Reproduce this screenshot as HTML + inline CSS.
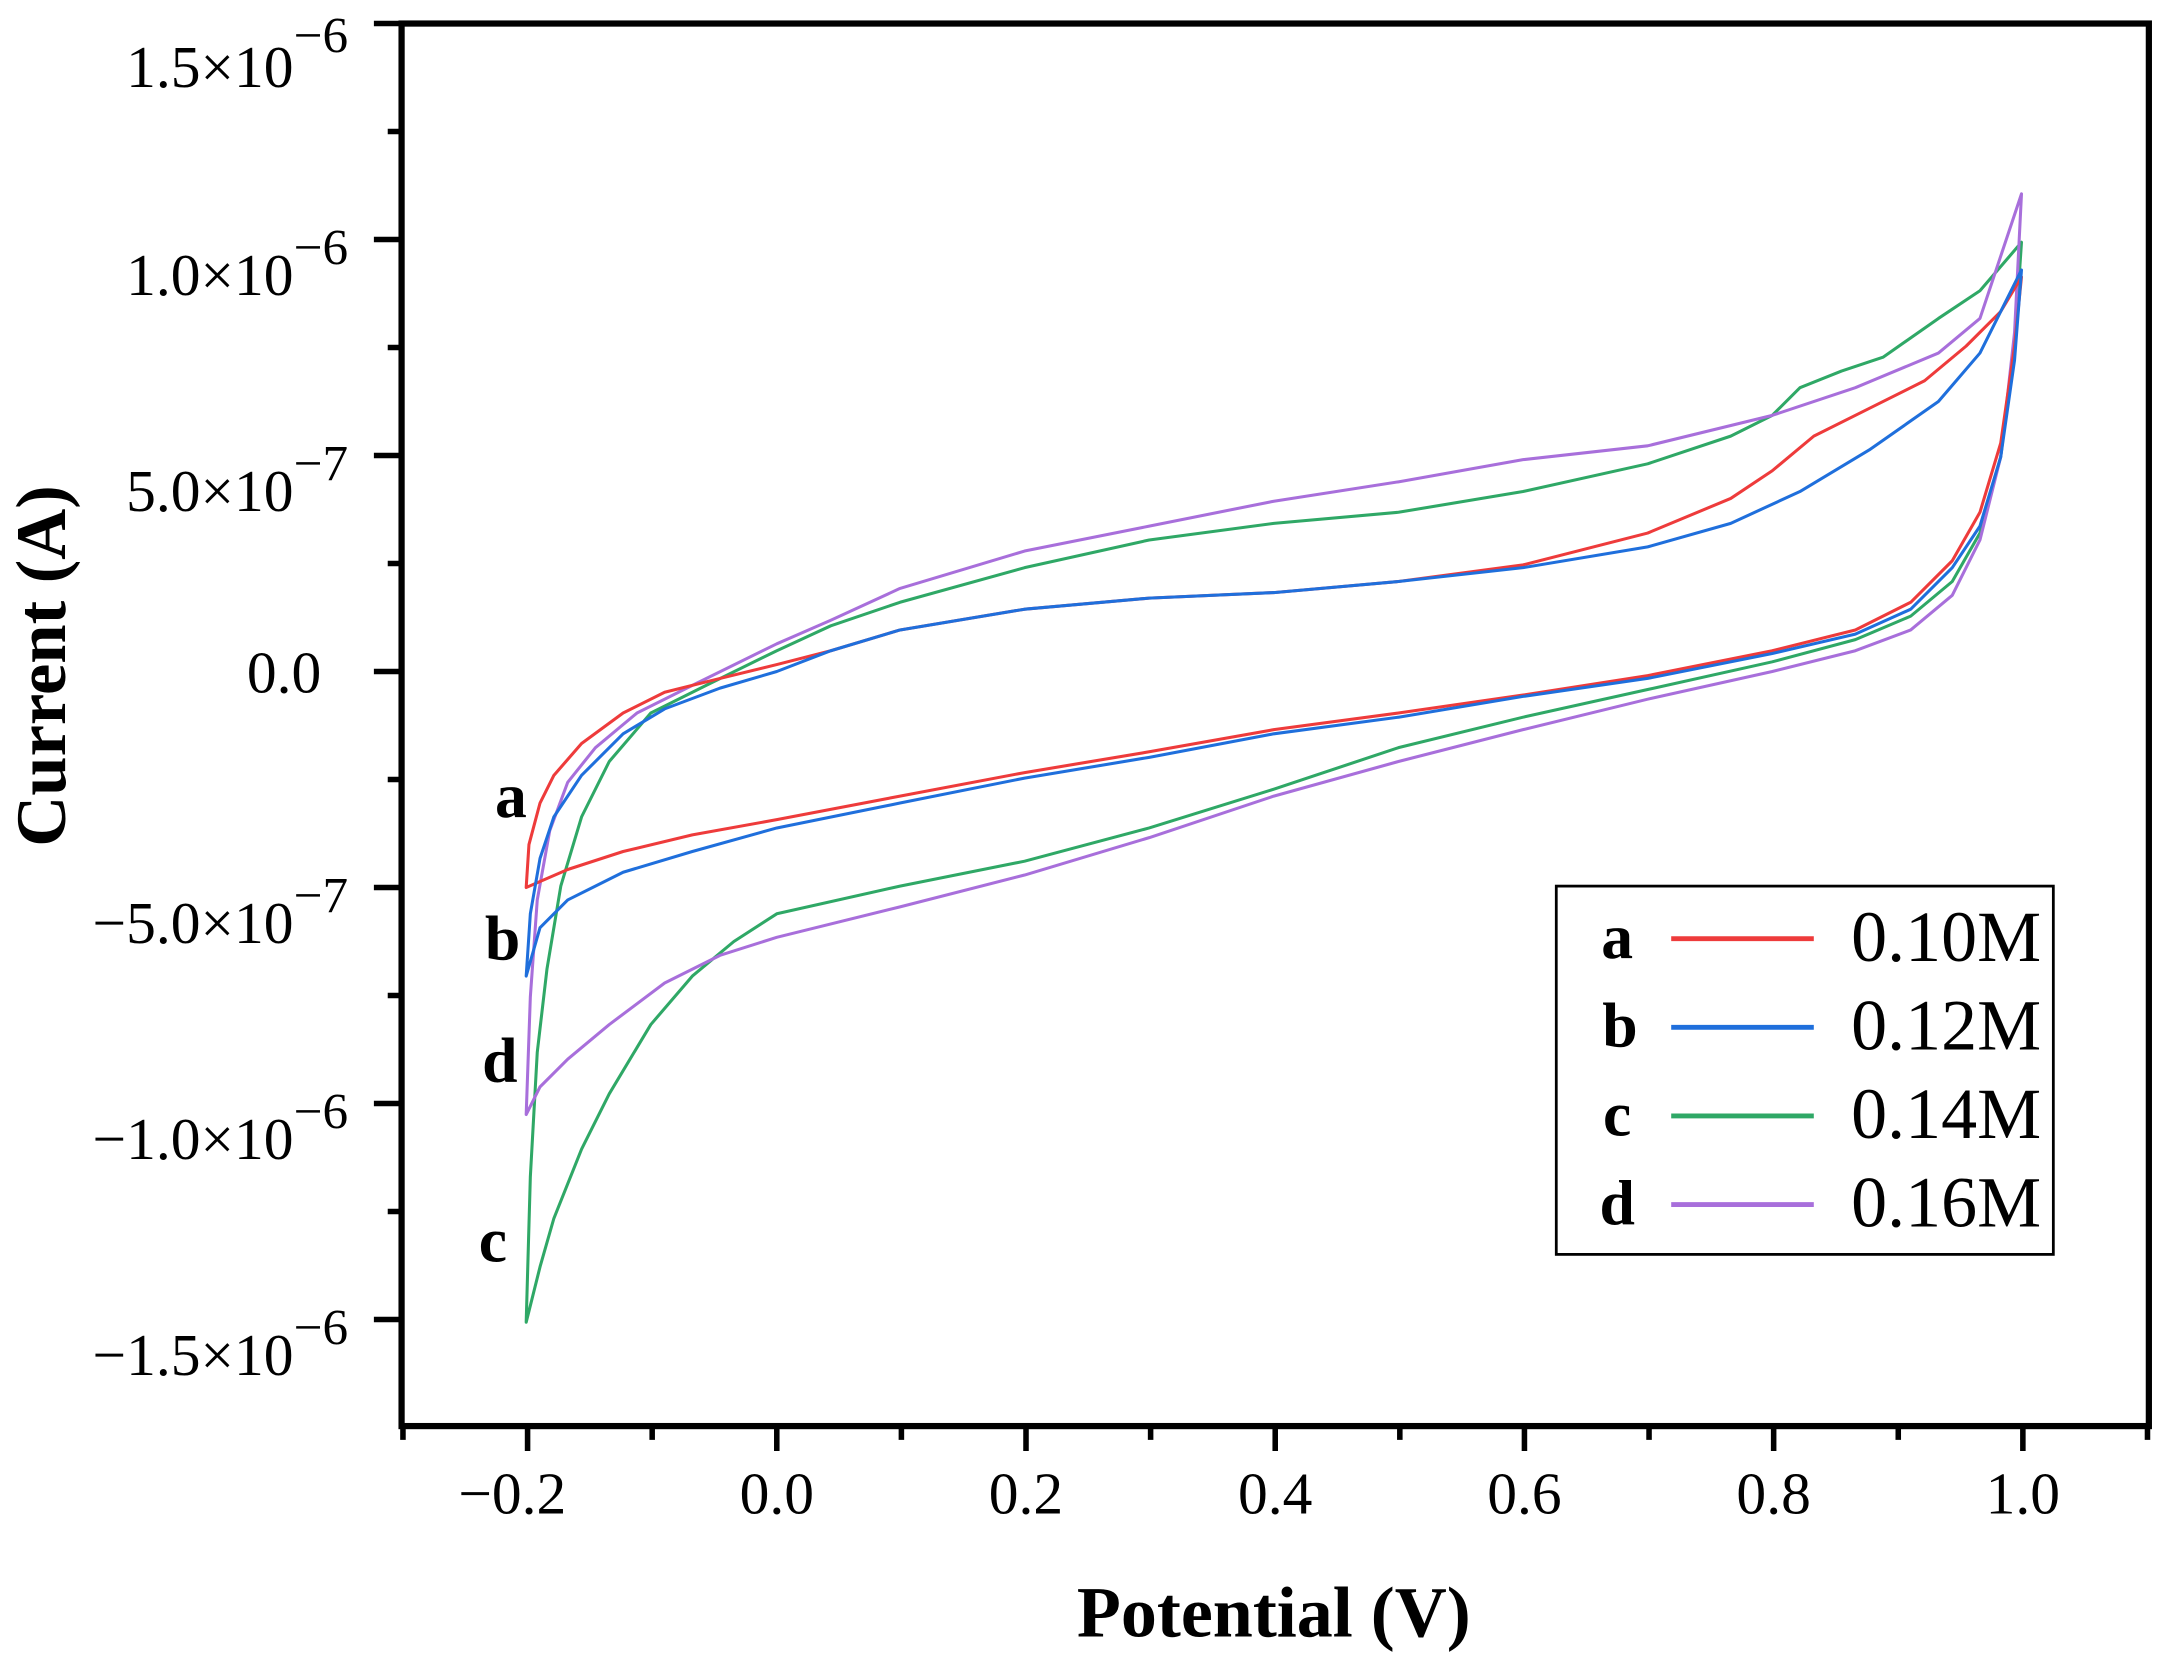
<!DOCTYPE html>
<html><head><meta charset="utf-8"><style>html,body{margin:0;padding:0;background:#fff}svg{display:block}</style></head><body>
<svg width="2160" height="1653" viewBox="0 0 1560 1193.9" xmlns="http://www.w3.org/2000/svg" font-family="Liberation Serif, serif">
<rect width="1560" height="1194" fill="#fff"/>
<g fill="none" stroke-width="2.2" stroke-linejoin="round">
<path stroke="#2fa866" d="M380,955 L383,850 L388,760 L395,700 L405,640 L420,590 L440,550 L470,515 L510,495 L561,470 L600,452 L650,435 L740,410 L830,390 L920,378 L1010,370 L1100,355 L1190,335 L1250,315 L1280,300 L1300,280 L1330,268 L1360,258 L1400,230 L1430,210 L1460,175 L1455,250 L1445,330 L1430,385 L1410,420 L1380,445 L1340,462 L1280,478 L1190,498 L1100,518 L1010,540 L920,570 L830,598 L740,622 L650,640 L561,660 L530,680 L500,705 L470,740 L440,790 L420,830 L400,880 L390,915 Z"/>
<path stroke="#a86fdb" d="M380,805 L383,720 L388,650 L397,600 L410,565 L430,540 L460,515 L500,495 L561,465 L600,448 L650,425 L740,398 L830,380 L920,362 L1010,348 L1100,332 L1190,322 L1280,300 L1340,280 L1400,255 L1430,230 L1460,140 L1455,240 L1445,330 L1430,390 L1410,430 L1380,455 L1340,470 L1280,485 L1190,505 L1100,527 L1010,550 L920,575 L830,605 L740,632 L650,655 L561,677 L520,690 L480,710 L440,740 L410,765 L390,785 Z"/>
<path stroke="#ee3b3b" d="M380,641 L382,610 L390,580 L400,560 L420,537 L450,515 L480,500 L520,490 L561,480 L600,470 L650,455 L740,440 L830,432 L920,428 L1010,420 L1100,408 L1190,385 L1250,360 L1280,340 L1310,315 L1350,295 L1390,275 L1420,250 L1445,225 L1460,200 L1455,250 L1445,320 L1430,370 L1410,405 L1380,435 L1340,455 L1280,470 L1190,488 L1100,502 L1010,515 L920,527 L830,543 L740,558 L650,575 L561,592 L500,603 L450,615 L410,628 Z"/>
<path stroke="#1f6fdc" d="M380,705 L383,660 L390,620 L400,590 L420,560 L450,530 L480,512 L520,497 L561,485 L600,470 L650,455 L740,440 L830,432 L920,428 L1010,420 L1100,410 L1190,395 L1250,378 L1300,355 L1350,325 L1400,290 L1430,255 L1460,195 L1455,260 L1445,330 L1430,380 L1410,410 L1380,440 L1340,458 L1280,472 L1190,490 L1100,503 L1010,518 L920,530 L830,547 L740,562 L650,580 L561,598 L500,615 L450,630 L410,650 L390,670 Z"/>
</g>
<rect x="290" y="17" width="1262" height="1013" fill="none" stroke="#000" stroke-width="4.5"/>
<g stroke="#000" stroke-width="4">
<path d="M290,17h-20M290,173h-20M290,329h-20M290,485h-20M290,641h-20M290,797h-20M290,953h-20"/>
<path d="M290,95h-10M290,251h-10M290,407h-10M290,563h-10M290,719h-10M290,875h-10"/>
<path d="M381,1030v18M561,1030v18M741,1030v18M921,1030v18M1101,1030v18M1281,1030v18M1461,1030v18"/>
<path d="M291,1030v10M471,1030v10M651,1030v10M831,1030v10M1011,1030v10M1191,1030v10M1371,1030v10M1551,1030v10"/>
</g>
<g font-size="43" text-anchor="end">
<text x="212" y="63">1.5×10</text><text x="212" y="213">1.0×10</text><text x="212" y="369">5.0×10</text><text x="232" y="500">0.0</text><text x="212" y="681">−5.0×10</text><text x="212" y="837">−1.0×10</text><text x="212" y="993">−1.5×10</text>
</g>
<g font-size="37">
<text x="212" y="38">−6</text><text x="212" y="191">−6</text><text x="212" y="347">−7</text><text x="212" y="659">−7</text><text x="212" y="815">−6</text><text x="212" y="971">−6</text>
</g>
<g font-size="43" text-anchor="middle">
<text x="370" y="1093">−0.2</text><text x="561" y="1093">0.0</text><text x="741" y="1093">0.2</text><text x="921" y="1093">0.4</text><text x="1101" y="1093">0.6</text><text x="1281" y="1093">0.8</text><text x="1461" y="1093">1.0</text>
</g>
<text x="920" y="1182" font-size="52" font-weight="bold" text-anchor="middle">Potential (V)</text>
<text transform="translate(47,481) rotate(-90)" font-size="51" font-weight="bold" text-anchor="middle">Current (A)</text>
<g font-size="46" font-weight="bold" text-anchor="middle">
<text x="369" y="590">a</text><text x="363" y="693">b</text><text x="361" y="781">d</text><text x="356" y="911">c</text>
</g>
<rect x="1124" y="640" width="359" height="266" fill="#fff" stroke="#000" stroke-width="2"/>
<g font-size="46" font-weight="bold" text-anchor="middle">
<text x="1168" y="692">a</text><text x="1170" y="756">b</text><text x="1168" y="820">c</text><text x="1168" y="884">d</text>
</g>
<g stroke-width="3.5">
<path stroke="#ee3b3b" d="M1207,678h103"/><path stroke="#1f6fdc" d="M1207,742h103"/><path stroke="#2fa866" d="M1207,806h103"/><path stroke="#a86fdb" d="M1207,870h103"/>
</g>
<g font-size="52">
<text x="1337" y="694">0.10M</text><text x="1337" y="758">0.12M</text><text x="1337" y="822">0.14M</text><text x="1337" y="886">0.16M</text>
</g>
</svg>
</body></html>
